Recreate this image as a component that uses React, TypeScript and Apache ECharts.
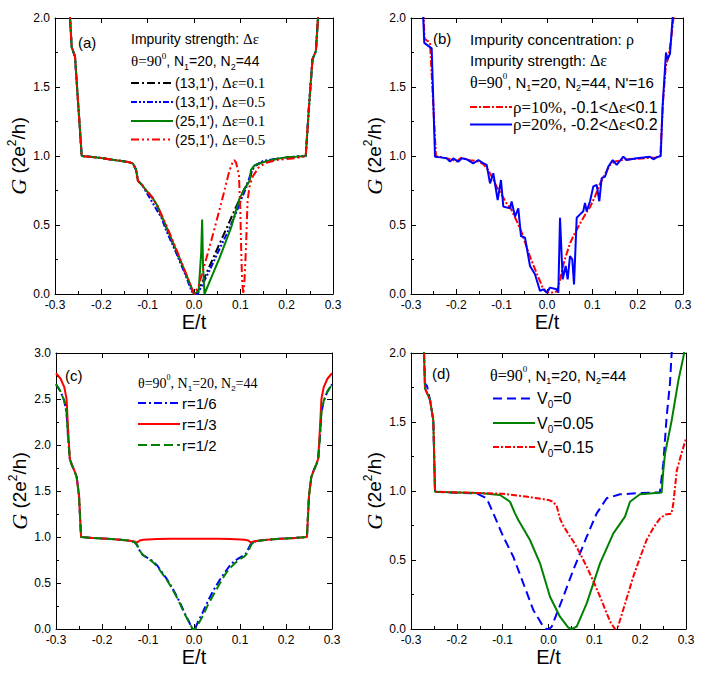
import React, { useEffect, useRef } from "react";
import * as echarts from "echarts";

const SANS = '"Liberation Sans", Arial, Helvetica, sans-serif';
const SERIF = '"Liberation Serif", "Times New Roman", serif';

// ---------- Panel (a) ----------
const aLeftE = [-0.3, -0.285, -0.272, -0.2676, -0.264, -0.2568, -0.2424, -0.22, -0.2, -0.18, -0.16, -0.14, -0.1316, -0.125, -0.121, -0.112, -0.103, -0.09, -0.08];
const aLeftG = [2.8, 2.6, 2.25, 2.0, 1.79, 1.72, 1.0, 0.993, 0.985, 0.975, 0.965, 0.955, 0.945, 0.9, 0.82, 0.79, 0.75, 0.7, 0.645];
const aRightE = [0.2412, 0.248, 0.2557, 0.263, 0.2676, 0.28, 0.3];
const aRightG = [1.0, 1.35, 1.7, 1.76, 2.0, 2.5, 2.8];
const aBlackE = [-0.06, -0.04, -0.02, 0.0, 0.005, 0.02, 0.04, 0.06, 0.08, 0.1, 0.11, 0.12, 0.125, 0.13, 0.15, 0.18, 0.2, 0.22];
const aBlackG = [0.48, 0.32, 0.16, 0.0, 0.0, 0.1, 0.25, 0.4, 0.55, 0.7, 0.77, 0.83, 0.89, 0.925, 0.96, 0.98, 0.99, 0.995];
const aBlueE = [-0.07, -0.06, -0.04, -0.02, -0.005, 0.0, 0.008, 0.02, 0.035, 0.05, 0.07, 0.09, 0.105, 0.115, 0.122, 0.13, 0.15, 0.18, 0.2, 0.22];
const aBlueG = [0.55, 0.46, 0.31, 0.15, 0.02, 0.0, 0.0, 0.08, 0.18, 0.29, 0.43, 0.58, 0.71, 0.79, 0.87, 0.93, 0.965, 0.98, 0.99, 0.995];
const aGreenE = [-0.06, -0.04, -0.02, 0.0, 0.01, 0.0155, 0.0176, 0.0195, 0.0226, 0.04, 0.055, 0.08, 0.098, 0.112, 0.12, 0.123, 0.13, 0.14, 0.155, 0.18, 0.205, 0.22];
const aGreenG = [0.49, 0.33, 0.17, 0.0, 0.02, 0.3, 0.54, 0.2, 0.0, 0.14, 0.26, 0.48, 0.69, 0.78, 0.82, 0.9, 0.93, 0.945, 0.96, 0.98, 0.993, 0.995];
const aRedE = [-0.06, -0.04, -0.02, 0.0, 0.01, 0.026, 0.04, 0.055, 0.065, 0.076, 0.083, 0.087, 0.091, 0.097, 0.1, 0.102, 0.104, 0.1065, 0.109, 0.112, 0.1157, 0.12, 0.1265, 0.141, 0.16, 0.177, 0.2, 0.22];
const aRedG = [0.5, 0.34, 0.17, 0.0, 0.06, 0.25, 0.42, 0.61, 0.74, 0.89, 0.95, 0.97, 0.95, 0.86, 0.6, 0.3, 0.08, 0.0, 0.1, 0.32, 0.68, 0.78, 0.85, 0.925, 0.955, 0.97, 0.978, 0.985];

// ---------- Panel (b) ----------
const bBlueE = [-0.3, -0.278, -0.273, -0.2707, -0.2544, -0.247, -0.235, -0.2213, -0.214, -0.207, -0.1957, -0.188, -0.1771, -0.1626, -0.1515, -0.142, -0.133, -0.1257, -0.1185, -0.1088, -0.1015, -0.0964, -0.0816, -0.078, -0.0706, -0.0633, -0.0574, -0.0485, -0.0375, -0.0265, -0.0154, -0.0081, -0.0007, 0.0066, 0.0213, 0.025, 0.0287, 0.0346, 0.0412, 0.0456, 0.0507, 0.0558, 0.0596, 0.0655, 0.0728, 0.08, 0.0838, 0.0875, 0.0949, 0.1022, 0.1096, 0.1154, 0.1206, 0.128, 0.1353, 0.145, 0.1537, 0.1684, 0.1758, 0.198, 0.2272, 0.2346, 0.242, 0.2508, 0.255, 0.2625, 0.2655, 0.2713, 0.277, 0.285];
const bBlueG = [2.8, 2.2, 2.0, 1.82, 1.78, 0.995, 0.99, 0.983, 0.959, 0.983, 0.959, 0.983, 0.976, 0.947, 0.971, 0.95, 0.935, 0.802, 0.875, 0.681, 0.826, 0.633, 0.621, 0.67, 0.561, 0.621, 0.42, 0.408, 0.203, 0.143, 0.022, 0.034, 0.01, 0.046, 0.034, 0.01, 0.553, 0.106, 0.203, 0.106, 0.275, 0.251, 0.07, 0.553, 0.577, 0.6, 0.66, 0.6, 0.672, 0.78, 0.79, 0.672, 0.84, 0.85, 0.923, 0.971, 0.935, 0.995, 0.971, 0.983, 0.995, 0.976, 0.99, 1.0, 1.36, 1.75, 1.7, 1.74, 1.995, 2.3];
const bRedE = [-0.3, -0.276, -0.272, -0.27, -0.258, -0.245, -0.23, -0.21, -0.2, -0.19, -0.17, -0.15, -0.14, -0.13, -0.12, -0.11, -0.1, -0.09, -0.08, -0.067, -0.055, -0.045, -0.035, -0.0228, -0.01, 0.0, 0.014, 0.022, 0.0287, 0.035, 0.0412, 0.05, 0.0581, 0.0728, 0.085, 0.095, 0.105, 0.117, 0.128, 0.139, 0.15, 0.17, 0.2, 0.22, 0.24, 0.25, 0.256, 0.262, 0.268, 0.274, 0.279, 0.29];
const bRedG = [2.8, 2.2, 2.0, 1.85, 1.82, 1.0, 0.99, 0.975, 0.96, 0.985, 0.97, 0.96, 0.94, 0.9, 0.84, 0.77, 0.72, 0.66, 0.62, 0.53, 0.44, 0.34, 0.25, 0.15, 0.05, 0.01, 0.01, 0.02, 0.1, 0.2, 0.27, 0.36, 0.42, 0.51, 0.58, 0.63, 0.7, 0.8, 0.87, 0.935, 0.96, 0.975, 0.98, 0.985, 0.99, 1.0, 1.4, 1.65, 1.72, 1.85, 2.0, 2.4];

// ---------- Panel (c) ----------
const cRedE = [-0.3, -0.29, -0.282, -0.277, -0.274, -0.27, -0.266, -0.26, -0.255, -0.25, -0.2455, -0.22, -0.2, -0.18, -0.16, -0.14, -0.13, -0.1235, -0.118, -0.11, -0.08, -0.05, 0, 0.05, 0.08, 0.11, 0.118, 0.1235, 0.13, 0.14, 0.16, 0.18, 0.2, 0.22, 0.2455, 0.25, 0.255, 0.26, 0.266, 0.27, 0.274, 0.277, 0.282, 0.29, 0.3];
const cRedG = [2.78, 2.72, 2.63, 2.5, 2.2, 1.85, 1.79, 1.72, 1.65, 1.45, 1.0, 0.99, 0.985, 0.978, 0.97, 0.96, 0.952, 0.94, 0.962, 0.97, 0.977, 0.98, 0.982, 0.98, 0.977, 0.97, 0.962, 0.94, 0.952, 0.96, 0.97, 0.978, 0.985, 0.99, 1.0, 1.45, 1.65, 1.72, 1.79, 1.85, 2.2, 2.5, 2.63, 2.72, 2.78];
const cBlueE = [-0.3, -0.29, -0.282, -0.277, -0.274, -0.27, -0.266, -0.26, -0.255, -0.25, -0.2455, -0.22, -0.2, -0.18, -0.16, -0.14, -0.13, -0.125, -0.12, -0.115, -0.11, -0.1, -0.09, -0.08, -0.07, -0.06, -0.05, -0.04, -0.03, -0.02, -0.01, -0.004, 0.002, 0.008, 0.018, 0.028, 0.038, 0.048, 0.058, 0.068, 0.078, 0.088, 0.098, 0.108, 0.113, 0.118, 0.123, 0.128, 0.14, 0.16, 0.18, 0.2, 0.22, 0.2455, 0.25, 0.255, 0.26, 0.266, 0.27, 0.274, 0.277, 0.282, 0.29, 0.3];
const cBlueG = [2.66, 2.58, 2.48, 2.35, 2.1, 1.85, 1.79, 1.72, 1.65, 1.45, 1.0, 0.99, 0.985, 0.978, 0.97, 0.96, 0.945, 0.92, 0.87, 0.82, 0.8, 0.77, 0.74, 0.69, 0.62, 0.55, 0.47, 0.38, 0.28, 0.17, 0.07, 0.0, 0.0, 0.07, 0.17, 0.28, 0.38, 0.47, 0.55, 0.62, 0.69, 0.74, 0.77, 0.8, 0.82, 0.87, 0.92, 0.945, 0.96, 0.97, 0.978, 0.985, 0.99, 1.0, 1.45, 1.65, 1.72, 1.79, 1.85, 2.1, 2.35, 2.48, 2.58, 2.66];
const cGreenE = [-0.3, -0.29, -0.282, -0.277, -0.274, -0.27, -0.266, -0.26, -0.255, -0.25, -0.2455, -0.22, -0.2, -0.18, -0.16, -0.14, -0.13, -0.125, -0.12, -0.115, -0.11, -0.1, -0.09, -0.08, -0.07, -0.06, -0.05, -0.04, -0.03, -0.02, -0.01, -0.003, 0.003, 0.01, 0.02, 0.03, 0.04, 0.05, 0.06, 0.07, 0.08, 0.09, 0.1, 0.11, 0.115, 0.12, 0.125, 0.13, 0.14, 0.16, 0.18, 0.2, 0.22, 0.2455, 0.25, 0.255, 0.26, 0.266, 0.27, 0.274, 0.277, 0.282, 0.29, 0.3];
const cGreenG = [2.66, 2.58, 2.48, 2.35, 2.1, 1.85, 1.79, 1.72, 1.65, 1.45, 1.0, 0.99, 0.985, 0.978, 0.97, 0.96, 0.945, 0.925, 0.88, 0.83, 0.8, 0.765, 0.73, 0.68, 0.61, 0.54, 0.46, 0.37, 0.27, 0.16, 0.07, 0.0, 0.0, 0.06, 0.15, 0.26, 0.35, 0.44, 0.53, 0.61, 0.67, 0.72, 0.76, 0.79, 0.82, 0.87, 0.92, 0.945, 0.96, 0.97, 0.978, 0.985, 0.99, 1.0, 1.45, 1.65, 1.72, 1.79, 1.85, 2.1, 2.35, 2.48, 2.58, 2.66];

// ---------- Panel (d) ----------
const dBlueE = [-0.3, -0.285, -0.2716, -0.2695, -0.265, -0.2585, -0.2513, -0.2476, -0.22, -0.2, -0.1567, -0.1348, -0.1204, -0.0986, -0.0768, -0.055, -0.0332, -0.0113, -0.005, 0.001, 0.007, 0.0323, 0.0541, 0.0834, 0.1052, 0.127, 0.156, 0.2, 0.243, 0.2505, 0.2578, 0.265, 0.2687, 0.28];
const dBlueG = [2.6, 2.3, 2.0, 1.78, 1.76, 1.66, 1.51, 0.995, 0.99, 0.988, 0.983, 0.947, 0.838, 0.669, 0.524, 0.331, 0.138, 0.017, 0, 0, 0.017, 0.234, 0.428, 0.669, 0.838, 0.947, 0.976, 0.985, 0.99, 1.2, 1.54, 1.78, 2.0, 2.5];
const dGreenE = [-0.3, -0.285, -0.2716, -0.2695, -0.2585, -0.2513, -0.2476, -0.2, -0.15, -0.1058, -0.084, -0.0731, -0.0659, -0.0404, -0.0185, 0.0033, 0.025, 0.0432, 0.0506, 0.0615, 0.0834, 0.1124, 0.1415, 0.1669, 0.1778, 0.1996, 0.247, 0.2505, 0.2542, 0.2687, 0.2833, 0.2942, 0.3];
const dGreenG = [2.6, 2.3, 2.0, 1.744, 1.66, 1.51, 0.995, 0.99, 0.985, 0.971, 0.922, 0.838, 0.79, 0.645, 0.476, 0.234, 0.089, 0.01, 0, 0.017, 0.186, 0.476, 0.693, 0.814, 0.922, 0.976, 0.99, 1.15, 1.27, 1.51, 1.8, 1.97, 2.08];
const dRedE = [-0.3, -0.285, -0.2716, -0.2695, -0.2585, -0.2513, -0.2476, -0.2, -0.1, -0.05, -0.02, 0.0, 0.01, 0.018, 0.025, 0.032, 0.045, 0.055, 0.07, 0.085, 0.1, 0.113, 0.125, 0.135, 0.145, 0.152, 0.163, 0.175, 0.185, 0.2, 0.214, 0.23, 0.243, 0.255, 0.268, 0.272, 0.28, 0.29, 0.3];
const dRedG = [2.6, 2.3, 2.0, 1.744, 1.66, 1.51, 0.995, 0.99, 0.98, 0.96, 0.945, 0.935, 0.922, 0.89, 0.8, 0.75, 0.68, 0.63, 0.54, 0.44, 0.33, 0.23, 0.13, 0.05, 0.0, 0.02, 0.14, 0.27, 0.38, 0.52, 0.645, 0.74, 0.8, 0.83, 0.835, 0.9, 1.15, 1.27, 1.38];

const xTicks = { min: -0.3, max: 0.3, interval: 0.1 };

const zip = (xs: number[], ys: number[]) => xs.map((x, i) => [x, ys[i]]);

function richSet(fs: number) {
  const sm = Math.round(fs * 0.62);
  return {
    a: { fontFamily: SANS, fontSize: fs, lineHeight: fs + 6, fill: "#000", color: "#000" },
    t: { fontFamily: SERIF, fontSize: fs + 1, lineHeight: fs + 6, fill: "#000", color: "#000" },
    sup: { fontFamily: SERIF, fontSize: sm, lineHeight: sm + 1, verticalAlign: "top", fill: "#000", color: "#000" },
    sub: { fontFamily: SANS, fontSize: sm, lineHeight: sm + 1, verticalAlign: "bottom", fill: "#000", color: "#000" },
  };
}

function txt(x: number, y: number, text: string, fs: number) {
  return {
    type: "text",
    x,
    y,
    z: 100,
    style: { text, rich: richSet(fs), align: "left", verticalAlign: "middle", fill: "#000" },
  };
}

function seg(x1: number, x2: number, y: number, color: string, dash: number[] | null) {
  return {
    type: "line",
    z: 100,
    shape: { x1, y1: y, x2, y2: y },
    style: { stroke: color, lineWidth: 2, lineDash: dash || undefined },
  };
}

const grids = [
  { left: 55, top: 18, width: 278, height: 276 },
  { left: 411, top: 18, width: 272, height: 276 },
  { left: 56, top: 353, width: 276, height: 276 },
  { left: 411, top: 353, width: 275, height: 276 },
];
const yMaxes = [2, 2, 3, 2];
const yNameGaps = [17, 24, 21, 23];

const DASH_A_BLACK = [8, 3, 2, 3];
const DASH_A_BLUE = [6, 2, 2, 2, 2, 2];
const DASH_A_RED = [8, 3, 2, 3, 2, 3];
const DASH_B_RED = [7, 2, 2, 2];
const DASH_C_BLUE = [8, 3, 2, 3];
const DASH_C_GREEN = [9, 4];
const DASH_D_BLUE = [9, 5];
const DASH_D_RED = [6, 2, 2, 2];

export default function App() {
  const ref = useRef<HTMLDivElement>(null);
  useEffect(() => {
    if (!ref.current) return;
    const chart = echarts.init(ref.current, null, { renderer: "svg" });
    const axisLineStyle = { color: "#000", width: 1 };
    const xAxes: any[] = [];
    const yAxes: any[] = [];
    grids.forEach((_, i) => {
      xAxes.push({
        gridIndex: i,
        type: "value",
        position: "bottom",
        ...xTicks,
        axisLine: { onZero: false, lineStyle: axisLineStyle },
        axisTick: { inside: true, length: 5, lineStyle: axisLineStyle },
        minorTick: { show: true, splitNumber: 2, length: 3, lineStyle: axisLineStyle },
        splitLine: { show: false },
        axisLabel: {
          formatter: (v: number) => v.toFixed(1),
          fontFamily: SANS,
          fontSize: 12,
          color: "#000",
          margin: 5,
        },
        name: "E/t",
        nameLocation: "middle",
        nameGap: 18,
        nameTextStyle: { fontFamily: SANS, fontSize: 20, color: "#000" },
      });
      xAxes.push({
        gridIndex: i,
        type: "value",
        position: "top",
        ...xTicks,
        axisLine: { onZero: false, lineStyle: axisLineStyle },
        axisTick: { inside: true, length: 5, lineStyle: axisLineStyle },
        axisLabel: { show: false },
        splitLine: { show: false },
      });
      yAxes.push({
        gridIndex: i,
        type: "value",
        position: "left",
        min: 0,
        max: yMaxes[i],
        interval: 0.5,
        axisLine: { onZero: false, lineStyle: axisLineStyle },
        axisTick: { inside: true, length: 5, lineStyle: axisLineStyle },
        minorTick: { show: true, splitNumber: 2, length: 3, lineStyle: axisLineStyle },
        splitLine: { show: false },
        axisLabel: {
          formatter: (v: number) => v.toFixed(1),
          fontFamily: SANS,
          fontSize: 12,
          color: "#000",
          margin: 5,
        },
        name: "{g|G} {a|(2e}{sup|2}{a|/h)}",
        nameLocation: "middle",
        nameGap: yNameGaps[i],
        nameTextStyle: {
          color: "#000",
          fontFamily: SANS,
          fontSize: 19,
          rich: {
            g: { fontFamily: SERIF, fontStyle: "italic", fontSize: 22, lineHeight: 24, color: "#000" },
            a: { fontFamily: SANS, fontSize: 19, lineHeight: 24, color: "#000" },
            sup: { fontFamily: SANS, fontSize: 12, lineHeight: 12, verticalAlign: "top", color: "#000" },
          },
        },
      });
      yAxes.push({
        gridIndex: i,
        type: "value",
        position: "right",
        min: 0,
        max: yMaxes[i],
        interval: 0.5,
        axisLine: { onZero: false, lineStyle: axisLineStyle },
        axisTick: { inside: true, length: 5, lineStyle: axisLineStyle },
        axisLabel: { show: false },
        splitLine: { show: false },
      });
    });

    const mk = (p: number, name: string, data: number[][], color: string, dash: number[] | null) => ({
      type: "line",
      name,
      xAxisIndex: 2 * p,
      yAxisIndex: 2 * p,
      data,
      showSymbol: false,
      symbol: "none",
      clip: true,
      lineStyle: { color, width: 2, type: dash || "solid" },
    });

    const series = [
      mk(0, "(13,1') 0.1", zip([...aLeftE, ...aBlackE, ...aRightE], [...aLeftG, ...aBlackG, ...aRightG]), "#000000", DASH_A_BLACK),
      mk(0, "(13,1') 0.5", zip([...aLeftE.slice(0, 16), ...aBlueE, ...aRightE], [...aLeftG.slice(0, 16), ...aBlueG, ...aRightG]), "#0000ff", DASH_A_BLUE),
      mk(0, "(25,1') 0.1", zip([...aLeftE, ...aGreenE, ...aRightE], [...aLeftG, ...aGreenG, ...aRightG]), "#008000", null),
      mk(0, "(25,1') 0.5", zip([...aLeftE, ...aRedE, ...aRightE], [...aLeftG, ...aRedG, ...aRightG]), "#ff0000", DASH_A_RED),
      mk(1, "rho10", zip(bRedE, bRedG), "#ff0000", DASH_B_RED),
      mk(1, "rho20", zip(bBlueE, bBlueG), "#0000ff", null),
      mk(2, "r=1/6", zip(cBlueE, cBlueG), "#0000ff", DASH_C_BLUE),
      mk(2, "r=1/3", zip(cRedE, cRedG), "#ff0000", null),
      mk(2, "r=1/2", zip(cGreenE, cGreenG), "#008000", DASH_C_GREEN),
      mk(3, "V0=0", zip(dBlueE, dBlueG), "#0000ff", DASH_D_BLUE),
      mk(3, "V0=0.05", zip(dGreenE, dGreenG), "#008000", null),
      mk(3, "V0=0.15", zip(dRedE, dRedG), "#ff0000", DASH_D_RED),
    ];

    const graphic: any[] = [
      // (a)
      txt(78, 42, "{a|(a)}", 15),
      txt(131, 39, "{a|Impurity strength: }{t|Δε}", 14),
      txt(131, 61, "{t|θ=90}{sup|0}{a|, N}{sub|1}{a|=20, N}{sub|2}{a|=44}", 14),
      seg(131, 173, 83, "#000000", DASH_A_BLACK),
      txt(175, 83, "{a|(13,1'), }{t|Δε=0.1}", 14),
      seg(131, 173, 102, "#0000ff", DASH_A_BLUE),
      txt(175, 102, "{a|(13,1'), }{t|Δε=0.5}", 14),
      seg(131, 173, 121, "#008000", null),
      txt(175, 121, "{a|(25,1'), }{t|Δε=0.1}", 14),
      seg(131, 173, 139.5, "#ff0000", DASH_A_RED),
      txt(175, 139.5, "{a|(25,1'), }{t|Δε=0.5}", 14),
      // (b)
      txt(433, 38, "{a|(b)}", 15),
      txt(470, 39, "{a|Impurity concentration: }{t|ρ}", 15),
      txt(470, 60, "{a|Impurity strength: }{t|Δε}", 15),
      txt(470, 82, "{t|θ=90}{sup|0}{a|, N}{sub|1}{a|=20, N}{sub|2}{a|=44, N'=16}", 15),
      seg(470, 512, 107, "#ff0000", DASH_B_RED),
      txt(513, 107, "{t|ρ=10%}{a|, -0.1<}{t|Δε}{a|<0.1}", 16),
      seg(470, 512, 124.5, "#0000ff", null),
      txt(513, 124.5, "{t|ρ=20%}{a|, -0.2<}{t|Δε}{a|<0.2}", 16),
      // (c)
      txt(65, 375, "{a|(c)}", 15),
      txt(138, 383, "{t|θ=90}{sup|0}{t|, N}{sub|1}{t|=20, N}{sub|2}{t|=44}", 13),
      seg(138, 180, 403, "#0000ff", DASH_C_BLUE),
      txt(182, 403, "{a|r=1/6}", 15),
      seg(138, 180, 424, "#ff0000", null),
      txt(182, 424, "{a|r=1/3}", 15),
      seg(138, 180, 445, "#008000", DASH_C_GREEN),
      txt(182, 445, "{a|r=1/2}", 15),
      // (d)
      txt(432, 373, "{a|(d)}", 15),
      txt(490, 375, "{t|θ=90}{sup|0}{a|, N}{sub|1}{a|=20, N}{sub|2}{a|=44}", 15),
      seg(493, 535, 398.5, "#0000ff", DASH_D_BLUE),
      txt(537, 398.5, "{a|V}{sub|0}{a|=0}", 16),
      seg(493, 535, 423, "#008000", null),
      txt(537, 423, "{a|V}{sub|0}{a|=0.05}", 16),
      seg(493, 535, 447, "#ff0000", DASH_D_RED),
      txt(537, 447, "{a|V}{sub|0}{a|=0.15}", 16),
    ];

    chart.setOption({
      animation: false,
      backgroundColor: "#fff",
      grid: grids.map((g) => ({ ...g, containLabel: false })),
      xAxis: xAxes,
      yAxis: yAxes,
      series,
      graphic,
    });
    return () => chart.dispose();
  }, []);
  return (
    <div
      ref={ref}
      style={{ position: "absolute", left: 0, top: 0, width: 704, height: 678, background: "#fff" }}
    />
  );
}
